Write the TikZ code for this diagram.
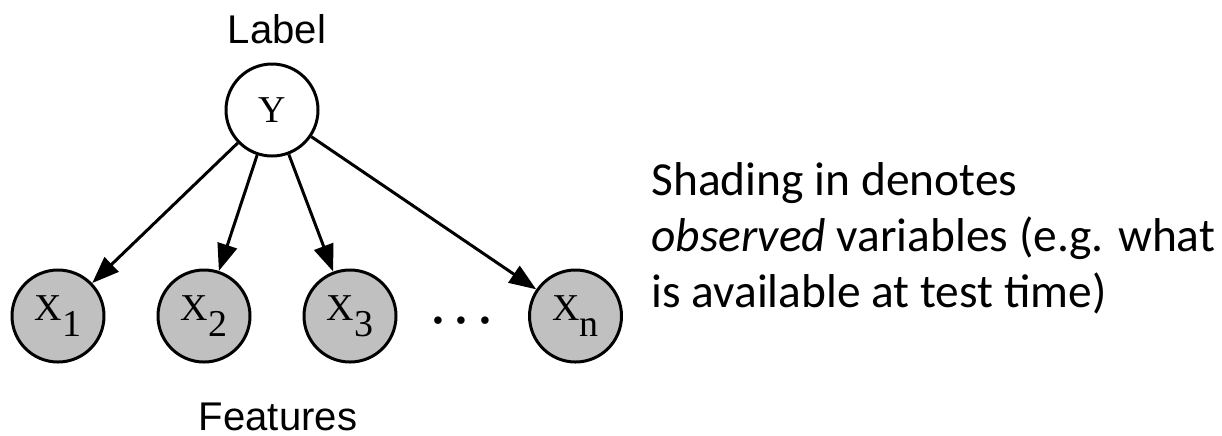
\documentclass[tikz,border=0pt]{standalone}
\usepackage{fontspec}
\setmainfont{Liberation Serif}
\newfontfamily\headfont{Liberation Sans}
\newfontfamily\notefont{Carlito}
\usetikzlibrary{arrows.meta, positioning}
\definecolor{obsgray}{HTML}{C0C0C0}
\newcommand{\xsub}[1]{X\raisebox{-4.5pt}{#1}}

\begin{document}
\begin{tikzpicture}[->, >={Triangle[length=0.27cm, width=0.2cm]}, line width=0.85pt,
    node distance=1.46cm,
    latent/.style={circle, draw=black, fill=white, line width=0.85pt, minimum size=0.92cm,
      inner sep=0pt, font=\fontsize{10.8}{12}\selectfont},
    observed/.style={latent, fill=obsgray},
    caption/.style={font=\headfont\fontsize{11.4}{13}\selectfont, inner sep=0pt}]

    \useasboundingbox (0,0) rectangle (12.22,-4.35);

    % Label
    \node[latent] (y) at (2.72,-1.10) {Y};
    \node[caption, anchor=base] (labeltext) at (2.77,-0.43) {Label};

    % Features
    \node[observed] (x1) at (0.58,-3.16) {\xsub{1}};
    \node[observed, right of=x1] (x2) {\xsub{2}};
    \node[observed, right of=x2] (x3) {\xsub{3}};
    \node[font=\fontsize{18}{18}\selectfont, anchor=base, inner sep=0pt] (dots) at (4.617,-3.23)
      {.\kern2.2pt.\kern2.2pt.};
    \node[observed] (xn) at (5.755,-3.16) {\xsub{n}};
    \node[caption, anchor=base] (featuretext) at (2.78,-4.30) {Features};

    % Edges
    \draw (y) -- (x1);
    \draw (y) -- (x2);
    \draw (y) -- (x3);
    \draw (y) -- (xn);

    % Note
    \node[anchor=base west, align=left, inner sep=0pt,
      font=\notefont\fontsize{13.5}{15.8}\selectfont] (note) at (6.50,-3.07)
      {Shading in denotes\\\textit{observed} variables (e.g. what\\is available at test time)};
\end{tikzpicture}
\end{document}
